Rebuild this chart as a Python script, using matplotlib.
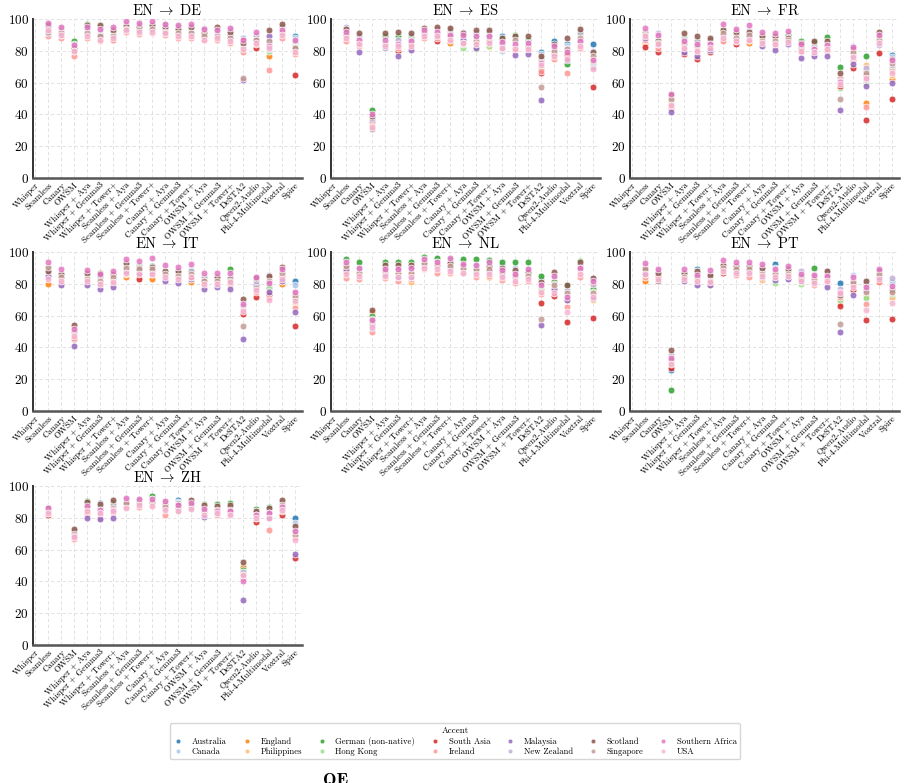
import numpy as np
import matplotlib
matplotlib.use("Agg")
import matplotlib.pyplot as plt

plt.rcParams['font.family'] = ['cmr10', 'DejaVu Serif']
plt.rcParams['mathtext.fontset'] = 'cm'
plt.rcParams['axes.formatter.use_mathtext'] = True

models = ["Whisper", "Seamless", "Canary", "OWSM", "Whisper + Aya", "Whisper + Gemma3",
          "Whisper + Tower+", "Seamless + Aya", "Seamless + Gemma3", "Seamless + Tower+",
          "Canary + Aya", "Canary + Gemma3", "Canary + Tower+", "OWSM + Aya",
          "OWSM + Gemma3", "OWSM + Tower+", "DeSTA2", "Qwen2-Audio", "Phi-4-Multimodal",
          "Voxtral", "Spire"]

accents = ["Australia", "Canada", "England", "Philippines", "German (non-native)",
           "Hong Kong", "South Asia", "Ireland", "Malaysia", "New Zealand", "Scotland",
           "Singapore", "Southern Africa", "USA"]

N = None
EMPTY = [N] * 14

# rows = models (order above), columns = accents (order above)
scores_de = [
    EMPTY,
    [95, 95, 93, 92, 96, 93, 94, 89, 91, 95, 96, 92, 97.5, 93],
    [93, 94, 91, 90, 94, 91, 91, 88, 90, 93, 92, 91, 95, 90],
    [83, 84, 81, 79, 86, 82, 80, 76.5, 81, 84, 82, 80, 83.5, 80],
    [94, 93, 92, 90, 97, 92, 93, 88, 91, 94, 96, 91, 95, 89],
    [93, 92, 90, 88, 95, 91, 90, 86, 89, 93, 96.5, 89, 94, 87],
    [92, 92, 89, 88, 93, 90, 86.5, 87, 90, 93, 93, 89, 95, 88],
    [96, 96, 95, 94, 97, 95, 95, 92, 94, 97, 95.5, 94, 98.5, 93],
    [95, 95, 94, 92, 96, 94, 93, 90.5, 93, 96, 95, 93, 97.5, 92],
    [96, 96, 94, 93, 97, 95, 94, 91, 94, 97, 96, 94, 98.5, 92],
    [95, 95, 93, 92, 96, 93, 93, 90, 92, 95, 95, 92, 97, 91],
    [94, 94, 92, 90, 95, 92, 91, 88, 91, 94, 94, 91, 96.5, 89],
    [95, 94, 92, 90, 95, 92, 91, 88, 92, 95, 95, 91, 97, 89],
    [92, 93, 90, 88, 93, 90, 90, 86.5, 89, 94.5, 91, 89, 94, 87],
    [92, 92, 90, 89, 93, 90, 90, 87, 90, 93, 95, 89, 93, 88],
    [92, 92, 89, 87, 93, 89, 88, 85, 90, 93, 92, 88, 94.5, 86],
    [88, 88, 83, 84, 82, 80, 87, 79.5, 61.5, 85, 85, 63, 86.5, 81],
    [90, 90, 87, 86, 89, 85, 82, 84, 88, 90, 87, 87, 92, 85],
    [86, 84, 76.5, 82, 80, 80, 83, 68, 89, 81, 93, 86, 83, 82],
    [95, 95, 92, 91, 95, 92, 93, 88, 91, 95, 97, 92, 93, 90],
    [89, 88, 80, 81, 85, 83, 65, 78, 82, 86, 82, 82, 87, 79],
]

scores_es = [
    EMPTY,
    [92, 93, 89, 88, 93, 90, 89, 86, 91, 95, 94, 90, 92, 88],
    [88, 88, 85, 84, 88, 85, 86, 83, 79.5, 89, 91, 85, 87, 84],
    [39, 39, 36, 35, 43, 37, 36, 33, 37, 38, 39, 31, 40, 32],
    [85, 85, 83, 83, 89, 84, 84, 82, 82, 81.5, 91, 84, 87, 83],
    [85, 86, 81, 82, 89, 84, 80, 82, 76.5, 87, 92, 84, 84.5, 83],
    [89, 88, 84, 83, 88, 85, 84, 82, 80.5, 87, 91.5, 84, 86, 83],
    [93, 93, 91, 90, 93, 91, 90, 88, 91, 94, 94.5, 91, 93, 89],
    [92, 93, 90, 89, 93, 90, 86, 88, 90, 94, 95, 90, 92, 89],
    [92, 92, 85, 88, 92, 89, 88, 87, 89, 93, 94.5, 89, 90, 87],
    [89, 89, 86, 86, 88, 82, 86, 84, 87, 92, 91, 85, 90, 85],
    [90, 90, 87, 86, 90, 81, 86, 85, 81.5, 91, 93, 86, 89, 84],
    [90, 90, 84, 82.5, 89, 83, 87, 85, 87, 92, 93, 86, 89.5, 85],
    [89, 80, 84, 83, 88, 83, 83, 81, 84, 86, 88, 82, 85.5, 82],
    [88, 86, 82, 82, 90, 82, 82, 80, 77.5, 86, 89.5, 87, 84, 81],
    [86, 86, 82, 82, 87, 83, 82, 80, 78, 85, 89.5, 83, 85, 81],
    [79.5, 78, 70, 68, 75, 69, 66, 67, 49, 76, 77, 57, 72.5, 71],
    [86, 82, 78, 77, 80, 78, 78, 75, 82, 81, 84.5, 80, 83, 77],
    [84, 83, 77, 76, 72, 80, 78, 66, 74, 82, 88, 81, 79.5, 75],
    [90, 90, 85, 84, 91, 86, 86, 82, 87, 92, 94, 88, 86, 83],
    [84, 80, 71, 72, 72, 73, 57, 75, 70, 69, 79.5, 77, 74.5, 68.5],
]

scores_fr = [
    EMPTY,
    [91, 92, 85, 87, 90, 89, 82.5, 87, 88, 92, 91, 90, 94.5, 89],
    [88, 89, 85, 84, 86, 85, 79.5, 82, 84, 91, 86, 85, 90, 84],
    [49, 50, 47.5, 46, 51, 48, 44, 45, 41.5, 50, 52, 50, 53, 46],
    [86, 87, 83, 82, 88, 85, 78, 81, 79.5, 87, 91.5, 84, 86, 82],
    [86, 87, 81, 80, 87, 83, 75, 79, 77, 86, 89, 83, 84, 80],
    [86, 86, 82, 82, 87, 84, 79.5, 81, 80.5, 87, 88, 84, 84, 82],
    [93, 94, 89, 88, 94, 90, 87, 86, 90, 90, 93, 91, 97, 88],
    [91, 91, 87, 87, 90, 88, 84.5, 86, 88, 90.5, 92, 88, 94, 86],
    [92, 92, 85, 88, 91, 89, 87, 87, 89, 93, 92, 90, 96, 87],
    [89, 89, 85, 85, 90, 87, 84, 84, 83, 88, 89.5, 86, 92, 85],
    [89, 89, 85, 85, 89, 86, 83, 83.5, 80.5, 88, 89, 86, 91.5, 84],
    [89, 90, 86, 86, 90, 87, 86, 85, 84, 88, 88, 87, 92.5, 85.5],
    [84, 84, 81, 81, 86, 82, 80, 79, 75.5, 83, 85, 82, 84.5, 80],
    [84, 84, 80, 80, 85.5, 82, 79, 78, 76.5, 83, 86, 81, 81, 79],
    [85, 85, 82, 82, 88.5, 84, 81, 80, 77, 84, 86, 83, 83.5, 81],
    [62, 63, 59, 58, 70, 56.5, 58, 63, 43, 61, 66, 50, 60.5, 59],
    [82, 83, 75, 76, 78, 74, 69, 74, 72, 77, 81, 79, 82.5, 76],
    [68, 70, 47, 71, 77, 60, 36.5, 44.5, 58, 69, 65, 66, 62, 63],
    [88, 89, 86, 85, 88, 86, 78.5, 85, 84, 83.5, 92, 87, 90, 85],
    [77.5, 76, 62.5, 65, 70, 69, 50, 67.5, 59.5, 71, 75, 72.5, 74, 66],
]

scores_it = [
    EMPTY,
    [89, 90, 80, 84, 89, 86, 84, 86, 85, 88, 88, 90.5, 94, 83],
    [85, 86, 81, 80, 86, 83, 82, 81, 79.5, 85, 86, 84, 89.5, 82],
    [50, 51, 47, 48, 52, 49, 45, 46, 41, 51, 54, 50, 51.5, 47],
    [85, 86, 82, 82, 86, 84, 81, 81, 79.5, 86, 87, 83, 88.5, 82],
    [84, 84, 81, 80, 85, 82, 80, 79, 77, 84, 87, 82, 86, 80],
    [85, 86, 81, 80, 82, 83, 80.5, 80, 78, 85, 86, 84, 88, 81],
    [92, 92, 84, 86, 92, 89, 88, 87, 88, 91, 93, 90, 95.5, 87],
    [91, 91, 85, 86, 91, 88, 83, 87, 87, 90, 90, 89, 94.5, 86],
    [91, 91, 83, 86, 91, 88, 86, 87, 88, 90, 90.5, 89, 96, 86],
    [88, 88, 84, 84, 88, 86, 84, 85, 81.5, 87, 88, 86, 92, 84],
    [88, 88, 83, 83, 87, 85, 83, 83, 80.5, 87, 88, 85, 90.5, 83],
    [89, 89, 81, 83, 88, 85, 84, 84, 83, 88, 84, 86, 92.5, 84],
    [84, 84, 80, 80, 84, 81, 80, 79, 76.5, 84, 82, 82, 87, 80],
    [84, 84, 80, 80, 84, 81, 80, 80, 78, 83, 84.5, 82, 87, 80],
    [85, 85, 81, 80, 89, 82, 80, 80, 77, 84, 83, 82, 87, 81],
    [68, 67, 64, 62, 66, 63, 61, 64, 45.5, 66, 70.5, 53.5, 67, 63],
    [83, 83, 76, 76, 80, 78, 72, 75, 79, 81.5, 83.5, 77.5, 84, 76],
    [84, 84, 77, 76, 78, 79, 73, 71, 75, 85.5, 85, 82, 80.5, 70],
    [88, 88, 80, 82, 89, 86, 84, 85, 81.5, 88, 90.5, 87, 89, 83],
    [82, 79.5, 67, 68, 72, 70, 53.5, 65, 62, 74, 71.5, 73, 75, 69],
]

scores_nl = [
    EMPTY,
    [92, 93, 89, 90, 95.5, 91, 88, 83.5, 89, 93, 92, 91, 94, 86],
    [90, 90, 86, 85, 93.5, 88, 85, 83, 86, 89, 87, 87, 90, 85],
    [58, 58, 62, 56, 60, 55, 55, 50, 52.5, 54, 63.5, 58, 57, 53],
    [90, 90, 87, 86, 93.5, 88, 87, 83.5, 86, 90, 92, 88, 89.5, 85],
    [90, 90, 86, 85, 93.5, 87, 86, 82, 84.5, 89, 92, 87, 89.5, 84],
    [90, 90, 82, 81, 93.5, 87, 86, 83, 84, 89, 92, 87, 90, 84],
    [94, 95, 91, 91, 97, 93, 92, 89, 92, 95, 93.5, 93, 95.5, 90],
    [93, 94, 90, 90, 96.5, 92, 91, 86.5, 91, 94, 92, 92, 94, 89],
    [93, 94, 90, 89, 95, 92, 90, 86.5, 90, 94, 93, 91, 96.5, 88],
    [93, 93, 89, 88, 95.5, 90, 89, 86.5, 89, 92, 91, 90, 92.5, 87],
    [92, 92, 88, 87, 95.5, 89, 88, 84, 88, 91, 89.5, 89, 92, 86],
    [92, 92, 84.5, 87, 95, 89, 88, 85, 88, 91, 91.5, 89, 94, 86],
    [91.5, 90, 86, 86, 94, 88, 87, 82.5, 85.5, 89, 90, 87, 88.5, 84],
    [89, 90, 85, 84, 94, 86, 85, 80.5, 84, 88, 88.5, 85, 86, 82],
    [89, 89, 84, 83, 93.5, 86, 85, 81.5, 84.5, 88, 87.5, 85, 89.5, 83],
    [82.5, 81, 76, 75, 85, 77, 68, 73.5, 54, 80, 81, 58, 79.5, 75],
    [83, 84, 82, 80, 81, 78, 72.5, 76, 77, 80, 87.5, 79.5, 85, 74.5],
    [76, 74, 70, 71, 79.5, 73, 56, 65.5, 70, 75.5, 79, 74, 72, 62],
    [92, 92, 87.5, 88, 94.5, 90, 89, 84.5, 89, 92, 93.5, 90, 90, 86],
    [83, 82, 79, 69.5, 77, 75, 58.5, 73, 71, 80, 83.5, 74.5, 81.5, 71.5],
]

scores_pt = [
    EMPTY,
    [89, 90, 82, 85, 90, 87, 86, 84.5, 86, 91, 90, 89, 93, 86],
    [87, 87, 84, 83, 87, 85, 84, 85, 82, 88, 87, 82, 89.5, 83],
    [26, 30, 31, 29, 13.5, 32, 27, 30, 33, 35, 38.5, 32, 33.5, 29.5],
    [86, 86, 83, 82, 86, 84, 83, 82, 82, 86, 87, 84, 89, 83],
    [89.5, 88, 84, 83, 87, 84, 83, 82, 79.5, 87, 88, 84, 85.5, 82],
    [85, 85, 81, 81, 85, 83, 80, 83, 79, 84, 85.5, 82, 88.5, 81],
    [92, 92, 88, 88, 91, 90, 86.5, 88, 89, 92, 92, 90, 95, 88],
    [91, 91, 87, 87, 90, 89, 87, 85.5, 88, 91, 91, 89, 93.5, 87],
    [91, 91, 87, 87, 90, 89, 87, 84.5, 88, 91, 91.5, 89, 94, 87],
    [89, 89, 85, 82.5, 87, 86, 85, 85, 84, 88, 90, 86, 92.5, 85],
    [92.5, 90, 85, 85, 88, 80.5, 85, 85, 82.5, 88, 87, 86, 89.5, 84],
    [89, 89, 85, 84, 88, 86, 85, 85, 83, 88, 89, 86, 91, 85],
    [85, 86, 82, 82, 85, 80, 82, 82, 81.5, 88, 84, 83, 86, 82],
    [85, 86, 82, 82, 90, 83, 82, 79, 81, 85, 83, 82, 85.5, 80.5],
    [87, 88, 83, 83, 86, 84, 83, 81, 78, 86, 88, 84, 85, 82],
    [80.5, 76, 68, 69, 73, 70, 66, 72, 50, 77, 73, 55, 75, 74],
    [83, 85.5, 80, 80, 82, 81, 76, 79, 73, 82, 80, 81, 84, 78],
    [82, 81, 73, 72, 79, 71, 57, 67, 76, 80, 82, 75, 78, 63.5],
    [87, 87, 83, 84, 87, 85, 81, 81, 84, 88, 88, 86, 89, 83],
    [81, 80, 71, 72, 73.5, 74, 58, 75, 77, 83.5, 76, 75, 78.5, 68],
]

scores_zh = [
    EMPTY,
    [86, 87, 84, 84, 86, 85, 82, 83, 84, 86, 86, 84, 86, 83],
    EMPTY,
    [71, 71, 69, 69, 72, 70, 69, 66.5, 70, 72, 73, 70, 68.5, 68],
    [88, 88, 85, 85, 90.5, 86, 84, 82.5, 80, 88, 90, 86, 87.5, 84],
    [89, 88, 84, 84, 87, 85, 83, 80, 79.5, 87, 88.5, 85, 85, 83],
    [88, 89, 85, 84, 89, 86, 84, 83, 80, 88, 91, 86, 85, 84],
    [91, 91, 88, 88, 91, 89, 88, 87, 89, 91, 90, 89, 92.5, 86],
    [91, 91, 88, 88, 91, 89, 88, 87, 89, 91, 90, 89, 92, 88],
    [92, 92, 89, 89, 94, 90, 89, 88, 89, 92, 90, 90, 92, 87.5],
    [89, 89, 86, 86, 90, 87, 86, 82, 86, 89, 88, 87, 90.5, 85],
    [91.5, 90, 86, 86, 89, 87, 86, 85, 85, 89, 88, 86, 88, 84.5],
    [89, 89, 87, 87, 90, 88, 87, 86, 87, 89, 91.5, 88, 89, 85.5],
    [87, 87, 84, 84, 88.5, 85, 83, 83, 80.5, 87, 88, 84, 85.5, 82],
    [87, 87, 84, 84, 88.5, 85, 84, 82, 83, 86, 87.5, 85, 84, 83],
    [87, 87, 84, 84, 89, 85, 84, 83, 83, 87, 88, 85, 84.5, 81.5],
    [50, 50, 49, 45, 47, 46, 43, 42, 28, 46, 52, 44, 40.5, 44],
    [84, 84, 81, 81, 85.5, 82, 77.5, 80, 81, 84, 84.5, 82, 82, 80],
    [85, 85, 81, 81, 86.5, 82, 80, 72.5, 80, 84, 86, 83, 83, 80],
    [89, 89, 86, 86, 90, 87, 82, 84.5, 86, 89, 91, 88, 87, 85],
    [80, 77, 68, 69, 72, 70, 55, 67, 57.5, 74, 75, 69, 72, 66],
]

panels = [("DE", scores_de), ("ES", scores_es), ("FR", scores_fr),
          ("IT", scores_it), ("NL", scores_nl), ("PT", scores_pt), ("ZH", scores_zh)]

colors = plt.get_cmap("tab20").colors

W, H = 910, 783
fig = plt.figure(figsize=(W / 100, H / 100), dpi=100)

col_left = [33, 331, 630]
row_top = [19, 252, 486]
ax_w, ax_h = 269, 159

x = np.arange(len(models))
for k, (lang, rows) in enumerate(panels):
    r, c = divmod(k, 3)
    ax = fig.add_axes([col_left[c] / W, 1 - (row_top[r] + ax_h) / H, ax_w / W, ax_h / H])
    data = np.array([[np.nan if v is None else v for v in row] for row in rows], dtype=float)
    ax.grid(True, linestyle=(0, (4, 3)), color="#dddddd", linewidth=0.6, zorder=0)
    ax.set_axisbelow(True)
    for j, acc in enumerate(accents):
        ax.scatter(x, data[:, j], s=24, color=colors[j], edgecolors="white",
                   linewidths=0.6, alpha=0.85, zorder=3)
    ax.set_xlim(-0.15, len(models) - 0.45)
    ax.set_ylim(0, 100)
    ax.set_yticks([0, 20, 40, 60, 80, 100])
    ax.set_xticks(x)
    ax.set_xticklabels(models, rotation=45, ha="right", rotation_mode="anchor", fontsize=6.4)
    ax.tick_params(axis="y", labelsize=9.5, length=0, pad=3)
    ax.tick_params(axis="x", length=0, pad=2)
    ax.set_title(r"EN$\;\rightarrow\;$" + lang, fontsize=10.5, pad=3)
    for s in ("top", "right"):
        ax.spines[s].set_visible(False)
    ax.spines["left"].set_linewidth(1.4)
    ax.spines["left"].set_color("#333333")
    ax.spines["bottom"].set_linewidth(1.8)
    ax.spines["bottom"].set_color("#555555")

handles = [plt.Line2D([], [], marker="o", linestyle="", markersize=3.2,
                      markerfacecolor=colors[j], markeredgecolor="white",
                      markeredgewidth=0.3, alpha=0.85) for j in range(len(accents))]
leg = fig.legend(handles, accents, title="Accent", ncol=7, loc="upper center",
                 bbox_to_anchor=(0.5, 1 - 719 / H), fontsize=6.2, title_fontsize=6.5,
                 frameon=True, handletextpad=1.0, columnspacing=1.7, handlelength=1.2,
                 borderpad=0.35, labelspacing=0.25)
leg.get_frame().set_edgecolor("#cccccc")

fig.text(323 / W, 1 - 773 / H, "QE", fontsize=13, family=["cmb10", "DejaVu Serif"],
         fontweight="bold", ha="left", va="top")

fig.savefig("out.png", dpi=100)
